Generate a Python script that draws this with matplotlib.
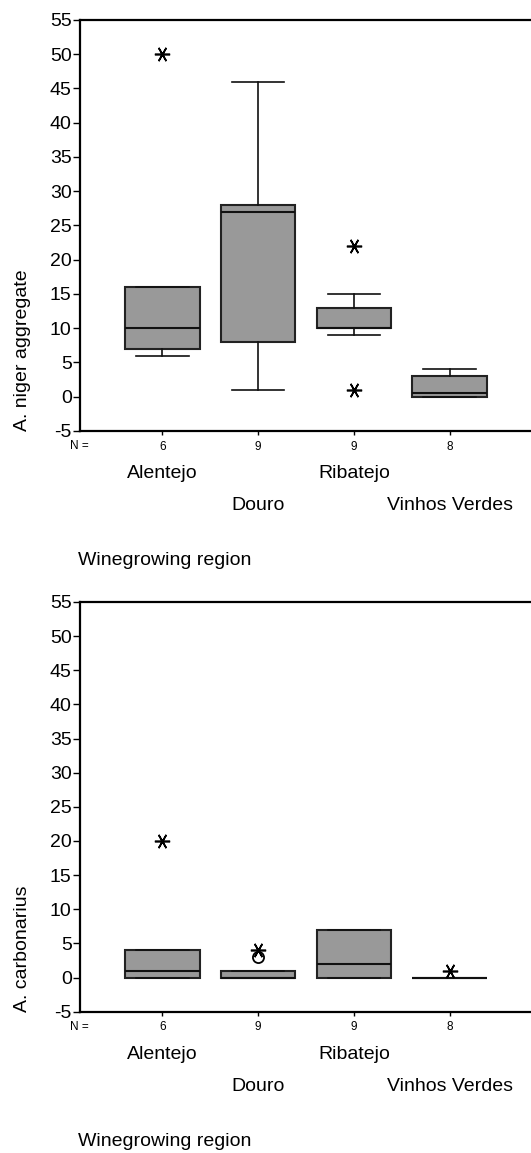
"""
Box plots of A. niger aggregate and A. carbonarius counts by winegrowing region.
"""
import matplotlib
matplotlib.use("Agg")
import matplotlib.pyplot as plt

plt.rcParams["font.family"] = ["Liberation Sans", "DejaVu Sans"]

REGIONS = ["Alentejo", "Douro", "Ribatejo", "Vinhos Verdes"]
N_SAMPLES = [6, 9, 9, 8]
POSITIONS = [1, 2, 3, 4]

# A. niger aggregate
NIGER_Q1 = [7, 8, 10, 0]
NIGER_MED = [10, 27, 10, 0.5]
NIGER_Q3 = [16, 28, 13, 3]
NIGER_LO = [6, 1, 9, 0]
NIGER_HI = [16, 46, 15, 4]
NIGER_EXTREMES = [[50], [], [22, 1], []]
NIGER_OUTLIERS = [[], [], [], []]

# A. carbonarius
CARB_Q1 = [0, 0, 0, 0]
CARB_MED = [1, 0, 2, 0]
CARB_Q3 = [4, 1, 7, 0]
CARB_LO = [0, 0, 0, 0]
CARB_HI = [4, 1, 7, 0]
CARB_EXTREMES = [[20], [4], [], [1]]
CARB_OUTLIERS = [[], [3], [], []]

YTICKS = list(range(-5, 60, 5))
GREY = "#999999"


def draw_panel(ax, q1, med, q3, lo, hi, extremes, outliers, ylabel):
    stats = []
    for i in range(len(REGIONS)):
        stats.append({"q1": q1[i], "med": med[i], "q3": q3[i],
                      "whislo": lo[i], "whishi": hi[i], "fliers": []})
    ax.bxp(stats, positions=POSITIONS, widths=0.78, showfliers=False,
           patch_artist=True,
           boxprops=dict(facecolor=GREY, edgecolor="#222222", linewidth=1.5),
           medianprops=dict(color="#111111", linewidth=1.5),
           whiskerprops=dict(color="#111111", linewidth=1.2),
           capprops=dict(color="#111111", linewidth=1.2),
           capwidths=0.55)

    for pos, vals in zip(POSITIONS, extremes):
        if vals:
            ax.plot([pos] * len(vals), vals, linestyle="none",
                    marker=(6, 2, 90), markersize=11, color="black",
                    markeredgewidth=1.2, zorder=5)
    for pos, vals in zip(POSITIONS, outliers):
        if vals:
            ax.plot([pos] * len(vals), vals, linestyle="none", marker="o",
                    markersize=8, markerfacecolor="white",
                    markeredgecolor="black", markeredgewidth=1.3, zorder=4)

    ax.set_xlim(0.14, 4.85)
    ax.set_ylim(-5, 55)
    ax.set_yticks(YTICKS)
    ax.set_yticklabels([str(t) for t in YTICKS])
    ax.set_xticks(POSITIONS)
    ax.set_xticklabels([str(n) for n in N_SAMPLES])
    ax.tick_params(axis="y", direction="out", length=5, width=1,
                   labelsize=14, pad=1)
    ax.tick_params(axis="x", direction="out", length=3, width=1,
                   labelsize=8.5, pad=4)
    ax.spines["right"].set_visible(False)
    for side in ["left", "bottom", "top"]:
        ax.spines[side].set_linewidth(1.6)

    xform = ax.get_xaxis_transform()
    ax.annotate("N =", xy=(0.14, 0), xycoords=xform, xytext=(-1, -15),
                textcoords="offset pixels", ha="center", va="center",
                fontsize=8.5)
    for i, (pos, name) in enumerate(zip(POSITIONS, REGIONS)):
        off = -43 if i % 2 == 0 else -75
        ax.annotate(name, xy=(pos, 0), xycoords=xform, xytext=(0, off),
                    textcoords="offset pixels", ha="center", va="center",
                    fontsize=14)
    ax.annotate("Winegrowing region", xy=(0, 0), xycoords="axes fraction",
                xytext=(-2, -130), textcoords="offset pixels",
                ha="left", va="center", fontsize=14)
    ax.annotate(ylabel, xy=(0, 0), xycoords="axes fraction",
                xytext=(-58, 0), textcoords="offset pixels",
                ha="center", va="bottom", rotation=90, fontsize=14)


fig = plt.figure(figsize=(5.31, 11.53), dpi=100)
ax1 = fig.add_axes([0.1507, 0.6262, 0.8493, 0.3565])
ax2 = fig.add_axes([0.1507, 0.1226, 0.8493, 0.3553])

draw_panel(ax1, NIGER_Q1, NIGER_MED, NIGER_Q3, NIGER_LO, NIGER_HI,
           NIGER_EXTREMES, NIGER_OUTLIERS, "A. niger aggregate")
draw_panel(ax2, CARB_Q1, CARB_MED, CARB_Q3, CARB_LO, CARB_HI,
           CARB_EXTREMES, CARB_OUTLIERS, "A. carbonarius")

fig.savefig("out.png", dpi=100)
